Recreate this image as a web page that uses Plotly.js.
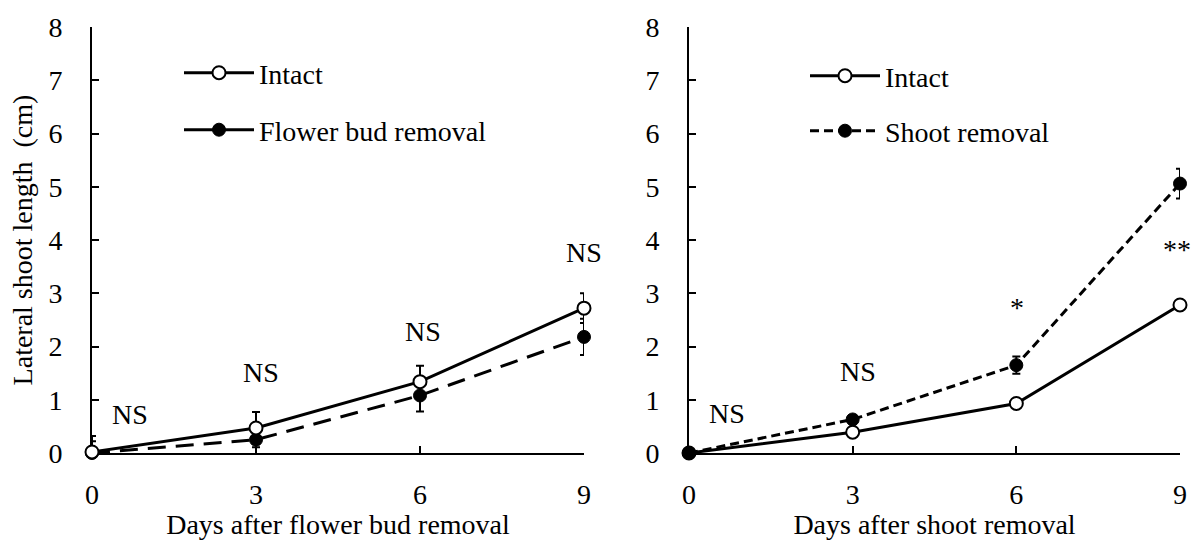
<!DOCTYPE html>
<html>
<head>
<meta charset="utf-8">
<script src="https://cdn.plot.ly/plotly-3.0.1.min.js"></script>
<style>html,body{margin:0;padding:0;background:#fff;}#chart{width:1196px;height:540px;}</style>
</head>
<body>
<div id="chart"></div>
<script>
// ---- data ----
const days = [0, 3, 6, 9];
const tickLabels = ['0', '3', '6', '9'];

// Left panel: flower bud removal experiment
const intactA = [0.02, 0.47, 1.34, 2.72];
const intactAErr = [0.3, 0.3, 0.3, 0.28];
const budRemoval = [0.0, 0.25, 1.08, 2.18];
const budRemovalErr = [0.22, 0.14, 0.3, 0.34];

// Right panel: shoot removal experiment
const intactB = [0.0, 0.39, 0.93, 2.78];
const intactBErr = [0.03, 0.04, 0.05, 0.06];
const shootRemoval = [0.0, 0.63, 1.65, 5.06];
const shootRemovalErr = [0.03, 0.08, 0.16, 0.28];

// significance labels
const sigLeftText = ['NS', 'NS', 'NS', 'NS'];
const sigLeftX = [0.7, 3.1, 6.06, 9.0];
const sigLeftY = [0.72, 1.51, 2.29, 3.76];
const sigLeftShift = [0, 0, 0, 0];
const sigRightText = ['NS', 'NS', '*', '**'];
const sigRightX = [0.7, 3.1, 6.02, 9.0];
const sigRightY = [0.74, 1.54, 2.74, 3.82];
const sigRightShift = [0, 0, 0, -3];

const FONT = 'Liberation Serif, Times New Roman, serif';
const FS = 28;
const black = '#000000';

function errBar(arr) {
  return {type: 'data', array: arr, visible: true, color: black, thickness: 2, width: 4};
}

const openMarker = {symbol: 'circle', size: 13, color: '#ffffff', line: {color: black, width: 2}};
const filledMarker = {symbol: 'circle', size: 13, color: black, line: {color: black, width: 1}};

const traces = [
  // left panel data
  {x: days, y: budRemoval, error_y: errBar(budRemovalErr), mode: 'lines+markers',
   line: {color: black, width: 3, dash: '18px,10px'}, marker: filledMarker,
   xaxis: 'x', yaxis: 'y', showlegend: false, cliponaxis: false},
  {x: days, y: intactA, error_y: errBar(intactAErr), mode: 'lines+markers',
   line: {color: black, width: 3}, marker: openMarker, name: 'Intact',
   xaxis: 'x', yaxis: 'y', legend: 'legend', showlegend: true, cliponaxis: false},
  // legend-only sample for flower bud removal (solid in the original legend)
  {x: [null], y: [null], mode: 'lines+markers', name: 'Flower bud removal',
   line: {color: black, width: 3}, marker: filledMarker,
   xaxis: 'x', yaxis: 'y', legend: 'legend2', showlegend: true},
  // right panel data
  {x: days, y: intactB, error_y: errBar(intactBErr), mode: 'lines+markers',
   line: {color: black, width: 3}, marker: openMarker, name: 'Intact',
   xaxis: 'x2', yaxis: 'y2', legend: 'legend3', showlegend: true, cliponaxis: false},
  {x: days, y: shootRemoval, error_y: errBar(shootRemovalErr), mode: 'lines+markers',
   line: {color: black, width: 3, dash: '9px,5px'}, marker: filledMarker, name: 'Shoot removal',
   xaxis: 'x2', yaxis: 'y2', legend: 'legend4', showlegend: true, cliponaxis: false}
];

const annotations = [];
sigLeftText.forEach((t, i) => annotations.push({
  x: sigLeftX[i], y: sigLeftY[i], xref: 'x', yref: 'y', text: t, showarrow: false,
  xshift: sigLeftShift[i], font: {family: FONT, size: FS, color: black}
}));
sigRightText.forEach((t, i) => annotations.push({
  x: sigRightX[i], y: sigRightY[i], xref: 'x2', yref: 'y2', text: t, showarrow: false,
  xshift: sigRightShift[i], font: {family: FONT, size: FS, color: black}
}));

function xAxis(domain, title, anchor) {
  return {
    domain: domain, anchor: anchor, range: [0, 9], tickvals: days, ticktext: tickLabels,
    showline: true, linecolor: black, linewidth: 2, ticks: 'inside', ticklen: 7, tickwidth: 2,
    tickcolor: black, showgrid: false, zeroline: false, layer: 'below traces',
    tickfont: {family: FONT, size: FS, color: black}, ticklabelstandoff: 15,
    title: {text: title, font: {family: FONT, size: FS, color: black}, standoff: 8},
    automargin: false, fixedrange: true
  };
}
function yAxis(domain, title, anchor) {
  return {
    domain: domain, anchor: anchor, range: [0, 8], dtick: 1, tick0: 0,
    showline: true, linecolor: black, linewidth: 2, ticks: 'inside', ticklen: 7, tickwidth: 2,
    tickcolor: black, showgrid: false, zeroline: false, layer: 'below traces',
    tickfont: {family: FONT, size: FS, color: black}, ticklabelstandoff: 22,
    title: {text: title, font: {family: FONT, size: FS, color: black}, standoff: 8},
    automargin: false, fixedrange: true
  };
}

function legendAt(x, y) {
  return {x: x, y: y, xref: 'paper', yref: 'paper', xanchor: 'left', yanchor: 'middle',
    bgcolor: 'rgba(0,0,0,0)', borderwidth: 0, itemwidth: 70,
    font: {family: FONT, size: FS, color: black}, itemclick: false, itemdoubleclick: false};
}

const yDom = [1 - 453 / 540, 1 - 27 / 540];
const layout = {
  width: 1196, height: 540,
  margin: {l: 0, r: 0, t: 0, b: 0},
  paper_bgcolor: '#ffffff', plot_bgcolor: '#ffffff',
  showlegend: true,
  xaxis: xAxis([92 / 1196, 584 / 1196], 'Days after flower bud removal', 'y'),
  yaxis: yAxis(yDom, 'Lateral shoot length\u00a0 (cm)', 'x'),
  xaxis2: xAxis([689 / 1196, 1180 / 1196], 'Days after shoot removal', 'y2'),
  yaxis2: yAxis(yDom, '', 'x2'),
  legend: legendAt(179 / 1196, 1 - 73 / 540),
  legend2: legendAt(179 / 1196, 1 - 130 / 540),
  legend3: legendAt(805 / 1196, 1 - 76 / 540),
  legend4: legendAt(805 / 1196, 1 - 131 / 540),
  annotations: annotations
};

Plotly.newPlot('chart', traces, layout, {staticPlot: true, displayModeBar: false});
</script>
</body>
</html>
